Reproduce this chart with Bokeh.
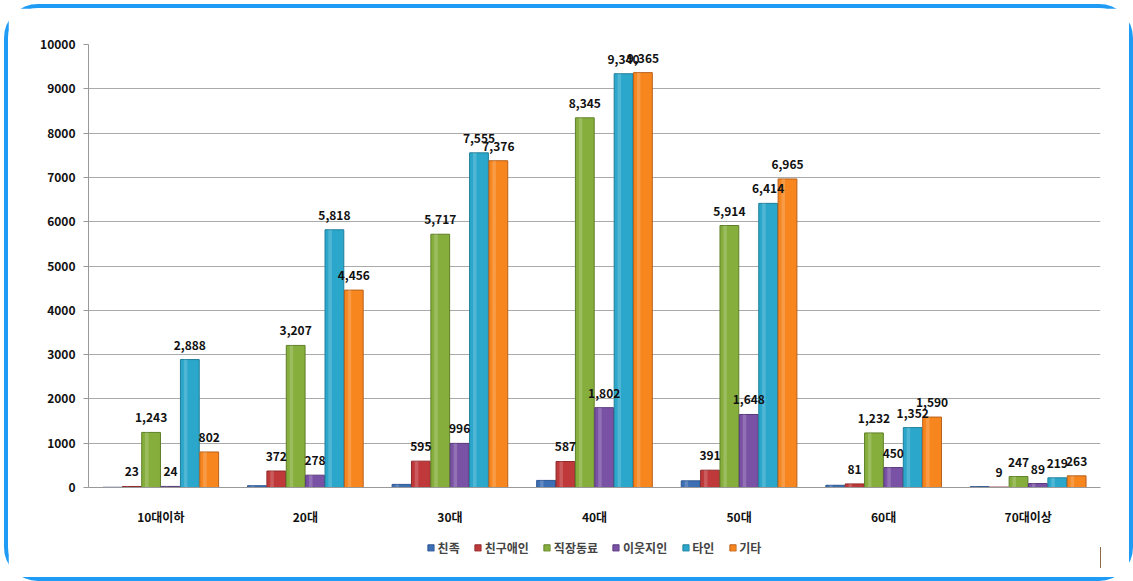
from bokeh.plotting import figure
from bokeh.layouts import column
from bokeh.models import ColumnDataSource, FactorRange, Legend, LegendItem, SingleIntervalTicker
from bokeh.transform import dodge
from bokeh.embed import file_html
from bokeh.resources import INLINE
from bokeh.core.properties import value

categories = ["10대이하", "20대", "30대", "40대", "50대", "60대", "70대이상"]
series_names = ["친족", "친구애인", "직장동료", "이웃지인", "타인", "기타"]
s_chinjok = [5, 40, 70, 160, 150, 50, 20]
s_friend = [23, 372, 595, 587, 391, 81, 9]
s_work = [1243, 3207, 5717, 8345, 5914, 1232, 247]
s_neighbor = [24, 278, 996, 1802, 1648, 450, 89]
s_stranger = [2888, 5818, 7555, 9340, 6414, 1352, 219]
s_other = [802, 4456, 7376, 9365, 6965, 1590, 263]
show_labels = [False, True, True, True, True, True]

colors = ["#3D6FB5", "#C0393A", "#86AE3C", "#7A52A5", "#2BA7CB", "#F7861E"]
edges = ["#2C5590", "#8E2A2A", "#5F7F28", "#58397A", "#1F7F9A", "#B8601A"]
series = [s_chinjok, s_friend, s_work, s_neighbor, s_stranger, s_other]

FONT = "Noto Sans CJK KR"

p = figure(x_range=FactorRange(*categories, range_padding=0), y_range=(0, 10000),
           width=1121, height=519, output_backend="svg", toolbar_location=None,
           min_border_left=80, min_border_right=29, min_border_top=36, min_border_bottom=40)
p.outline_line_color = None
p.background_fill_color = "white"

bw = 0.134
srcs = []
for i, (name, vals) in enumerate(zip(series_names, series)):
    off = (i - 2.5) * bw
    src = ColumnDataSource(dict(x=categories, top=vals,
                                lab=[f"{v:,}" for v in vals]))
    srcs.append((off, src))
    p.vbar(x=dodge("x", off, range=p.x_range), top="top", width=bw * 0.97, source=src,
           fill_color=colors[i], line_color=edges[i], line_width=1)
    p.vbar(x=dodge("x", off - bw * 0.22, range=p.x_range), top="top", width=bw * 0.18, source=src,
           fill_color="white", fill_alpha=0.18, line_color=None)

for i, (off, src) in enumerate(srcs):
    if show_labels[i]:
        p.text(x=dodge("x", off, range=p.x_range), y="top", text="lab", source=src,
               text_align="center", text_baseline="bottom", y_offset=-10,
               text_font=value(FONT), text_font_style="bold", text_font_size="12px",
               text_color="#111111")

p.yaxis.ticker = SingleIntervalTicker(interval=1000)
p.yaxis.major_label_text_font = FONT
p.yaxis.major_label_text_font_style = "bold"
p.yaxis.major_label_text_font_size = "12px"
p.yaxis.major_label_text_color = "#111111"
p.yaxis.axis_line_color = "#999999"
p.yaxis.major_tick_line_color = "#999999"
p.yaxis.major_tick_out = 5
p.yaxis.major_tick_in = 0
p.yaxis.minor_tick_line_color = None
p.yaxis.major_label_standoff = 8

p.xaxis.major_label_text_font = FONT
p.xaxis.major_label_text_font_style = "bold"
p.xaxis.major_label_text_font_size = "12px"
p.xaxis.major_label_text_color = "#111111"
p.xaxis.axis_line_color = "#999999"
p.xaxis.major_tick_line_color = None
p.xaxis.major_label_standoff = 14

p.xgrid.grid_line_color = None
p.ygrid.grid_line_color = "#AAAAAA"
p.ygrid.grid_line_width = 1

# legend strip
lf = figure(width=1121, height=50, x_range=(0, 1), y_range=(0, 1), output_backend="svg",
            toolbar_location=None, min_border_left=10, min_border_right=0,
            min_border_top=0, min_border_bottom=10)
lf.axis.visible = False
lf.grid.visible = False
lf.outline_line_color = None
items = []
for i, name in enumerate(series_names):
    r = lf.vbar(x=[5], top=[0.5], width=0.1, fill_color=colors[i], line_color=edges[i])
    items.append(LegendItem(label=name, renderers=[r]))
legend = Legend(items=items, orientation="horizontal", location="center",
                label_text_font=FONT, label_text_font_style="bold", label_text_font_size="12px",
                glyph_width=8, glyph_height=8, label_standoff=3, spacing=14,
                border_line_color=None, background_fill_alpha=0, padding=0, margin=0)
lf.add_layout(legend)

layout = column(p, lf, spacing=0)
layout.margin = (4, 0, 0, 4)
layout.styles = {"border": "4px solid #1E9BF5", "border-radius": "34px"}

open("out.html", "w").write(file_html(layout, INLINE))
